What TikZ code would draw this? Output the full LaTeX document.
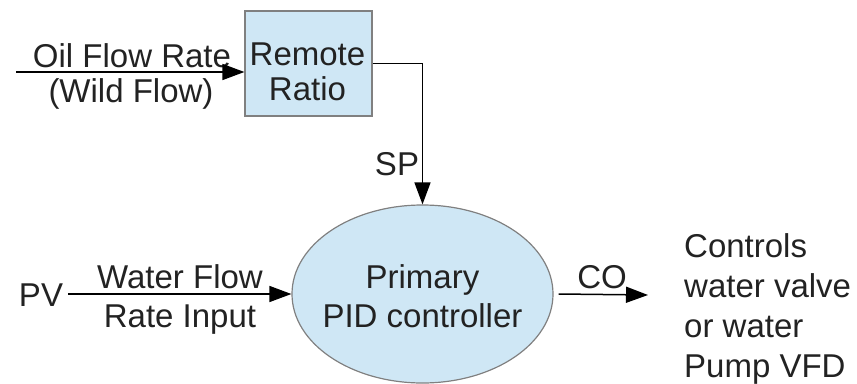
\documentclass[tikz,border=0pt]{standalone}
\usepackage{fontspec}
\setmainfont{Liberation Sans}
\usepackage{tikz}
\usetikzlibrary{arrows.meta,shapes.geometric,positioning}
\definecolor{boxblue}{HTML}{CFE7F5}
\definecolor{boxline}{HTML}{808080}
\definecolor{txtgray}{HTML}{222222}
\begin{document}
\begin{tikzpicture}[x=1pt,y=-1pt,
  txt/.style={inner sep=0pt,text=txtgray,font=\fontsize{33}{41}\selectfont},
  blk/.style={draw=boxline,line width=1.2pt,fill=boxblue,inner sep=0pt},
  sig/.style={line width=1.5pt,-{Triangle[length=22pt,width=16pt]}}]
\useasboundingbox (0,0) rectangle (857,383);
% blocks
\node[blk,minimum width=127pt,minimum height=105pt] (ratio) at (308.5,63.5) {};
\node[blk,ellipse,minimum width=261pt,minimum height=178pt] (pid) at (422.5,294) {};
\node[txt,anchor=base] (remote) at (307.5,65) {Remote};
\node[txt,anchor=base] (ratiotxt) at (307.5,100) {Ratio};
\node[txt,anchor=base] (primary) at (422.5,288) {Primary};
\node[txt,anchor=base] (pidtxt) at (422.5,327) {PID controller};
% inputs and output
\coordinate (oilin) at (16,72);
\node[txt,anchor=base] (oil) at (132,67) {Oil Flow Rate};
\node[txt,anchor=base] (wild) at (131,102) {(Wild Flow)};
\node[txt,anchor=base] (pv) at (41,306) {PV};
\node[txt,anchor=base] (water) at (180,288) {Water Flow};
\node[txt,anchor=base] (rate) at (180,327) {Rate Input};
\node[txt,anchor=base] (sp) at (397,175) {SP};
\node[txt,anchor=base] (co) at (602,288) {CO};
\node[txt,anchor=north west,align=left,font=\fontsize{33}{40}\selectfont] (ctrl) at (684,233) {Controls\\water valve\\or water\\Pump VFD};
\coordinate (coout) at (648,295);
% signals
\draw[sig] (oilin) -- (oilin -| ratio.west);
\draw[sig] (ratio.east) -| (pid.north);
\draw[sig] ([xshift=5pt]pv.east |- pid.west) -- (pid.west);
\draw[sig] ([xshift=5pt]pid.east) -- (coout);
\end{tikzpicture}
\end{document}
